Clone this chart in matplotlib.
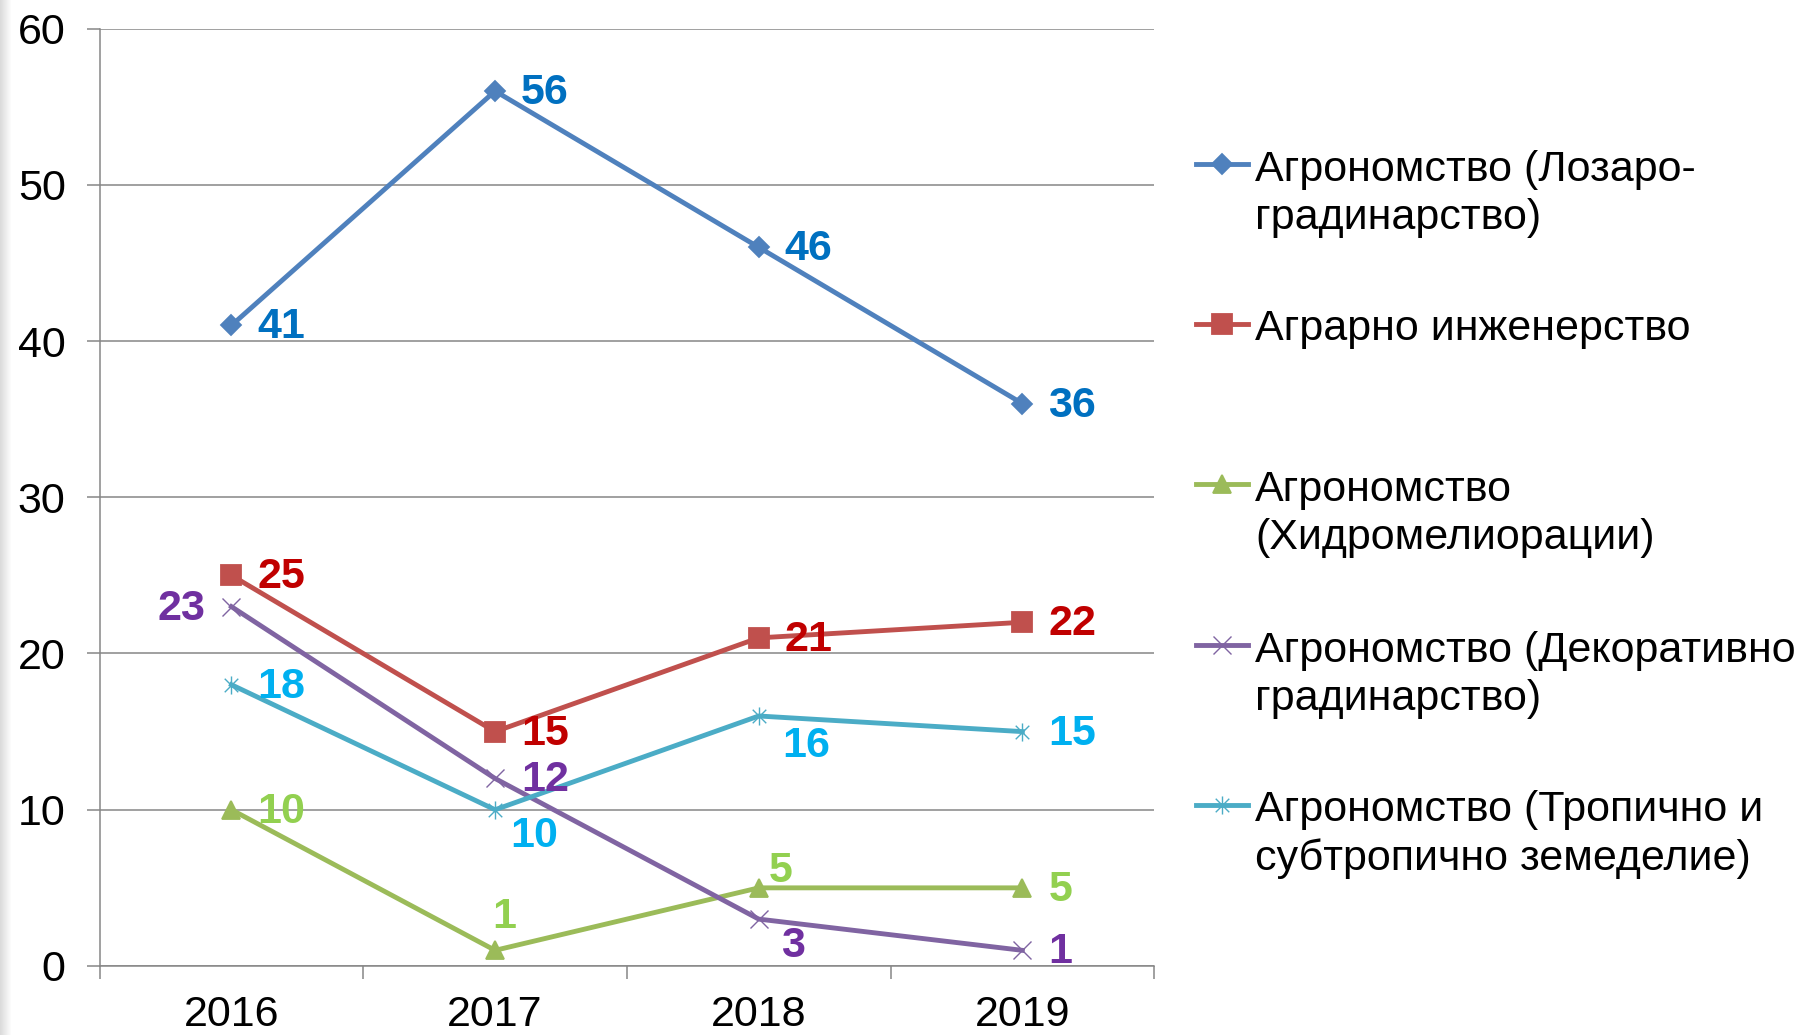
import numpy as np
import matplotlib
matplotlib.use('Agg')
import matplotlib.pyplot as plt
from matplotlib.path import Path
from matplotlib.lines import Line2D

plt.rcParams['font.family'] = ['Liberation Sans', 'DejaVu Sans']

years = ['2016', '2017', '2018', '2019']
lozaro = [41, 56, 46, 36]
agrarno = [25, 15, 21, 22]
hidro = [10, 1, 5, 5]
dekor = [23, 12, 3, 1]
tropich = [18, 10, 16, 15]

names = ['Агрономство (Лозаро-\nградинарство)',
         'Аграрно инженерство',
         'Агрономство\n(Хидромелиорации)',
         'Агрономство (Декоративно\nградинарство)',
         'Агрономство (Тропично и\nсубтропично земеделие)']

# Excel-like star marker: vertical stroke plus an X
star = Path([(0, -1), (0, 1), (-0.75, -0.75), (0.75, 0.75), (-0.75, 0.75), (0.75, -0.75)],
            [Path.MOVETO, Path.LINETO, Path.MOVETO, Path.LINETO, Path.MOVETO, Path.LINETO])

line_colors = ['#4F81BD', '#C0504D', '#9BBB59', '#8064A2', '#4BACC6']
label_colors = ['#0070C0', '#C00000', '#92D050', '#7030A0', '#00B0F0']
markers = ['D', 's', '^', 'x', star]
msizes = [10.5, 14, 13.5, 13, 13]
mews = [1.3, 1.3, 1.3, 1.0, 1.0]

R = (26, -2, 'left')
# label offsets in pixels (dx, dy, ha) for each point
offsets = [
    [R, R, R, R],
    [R, R, R, R],
    [R, (9, 33, 'center'), (22, 17, 'center'), R],
    [(-26, -2, 'right'), R, (34, -27, 'center'), R],
    [R, (39, -26, 'center'), (47, -30, 'center'), R],
]

series = [lozaro, agrarno, hidro, dekor, tropich]

fig = plt.figure(figsize=(17.95, 10.35), dpi=100)
ax = fig.add_axes([0.0555, 0.0667, 0.5875, 0.9057])

x = np.arange(len(years))
grid_c = '#868686'
lw = 3.5

for vals, lc, tc, mk, ms, mew, offs in zip(series, line_colors, label_colors, markers,
                                            msizes, mews, offsets):
    ax.plot(x, vals, color=lc, lw=lw, marker=mk, markersize=ms, markerfacecolor=lc,
            markeredgecolor=lc, markeredgewidth=mew, clip_on=False, zorder=3)
    for xi, v, (dx, dy, ha) in zip(x, vals, offs):
        ax.annotate(str(v), (xi, v), xytext=(dx, dy), textcoords='offset pixels',
                    ha=ha, va='center', color=tc, fontsize=31, fontweight='bold', zorder=4)

ax.set_xlim(-0.5, len(years) - 0.5)
ax.set_ylim(0, 60)
ax.set_yticks(range(0, 61, 10))
ax.set_xticks(np.arange(-0.5, len(years), 1.0))
ax.set_xticklabels([])
ax.set_xticks(x, minor=True)
ax.set_xticklabels(years, minor=True)
ax.tick_params(axis='x', which='major', direction='out', length=9, width=1.1, color=grid_c)
ax.tick_params(axis='x', which='minor', length=0, pad=21, labelsize=31)
ax.tick_params(axis='y', direction='out', length=9.5, width=1.1, color=grid_c, pad=15, labelsize=31)

ax.yaxis.grid(True, color=grid_c, lw=1.1)
ax.set_axisbelow(True)
for s in ['top', 'right']:
    ax.spines[s].set_visible(False)
for s in ['left', 'bottom']:
    ax.spines[s].set_color(grid_c)
    ax.spines[s].set_linewidth(1.1)

# legend drawn by hand so the handle sits on the first text line
W, H = 1795.0, 1035.0
line_px = 49
handle_y = [164, 324, 484, 645, 805]
for name, lc, mk, ms, mew, hy in zip(names, line_colors, markers, msizes, mews, handle_y):
    yf = 1 - hy / H
    fig.add_artist(Line2D([1196 / W, 1248 / W], [yf, yf], transform=fig.transFigure,
                          color=lc, lw=lw))
    fig.add_artist(Line2D([1222 / W], [yf], transform=fig.transFigure, color=lc, lw=0,
                          marker=mk, markersize=ms, markerfacecolor=lc, markeredgecolor=lc,
                          markeredgewidth=mew))
    n = name.count('\n')
    fig.text(1255 / W, 1 - (hy + 16 + n * line_px) / H, name, fontsize=31, va='baseline',
             ha='left', linespacing=1.27)

# light shadow on the left edge
grad = np.linspace(0.86, 1.0, 12)
stripe = np.tile(grad[None, :, None], (int(H), 1, 3))
fig.figimage(stripe, xo=0, yo=0, zorder=0)

fig.savefig('out.png', dpi=100)
